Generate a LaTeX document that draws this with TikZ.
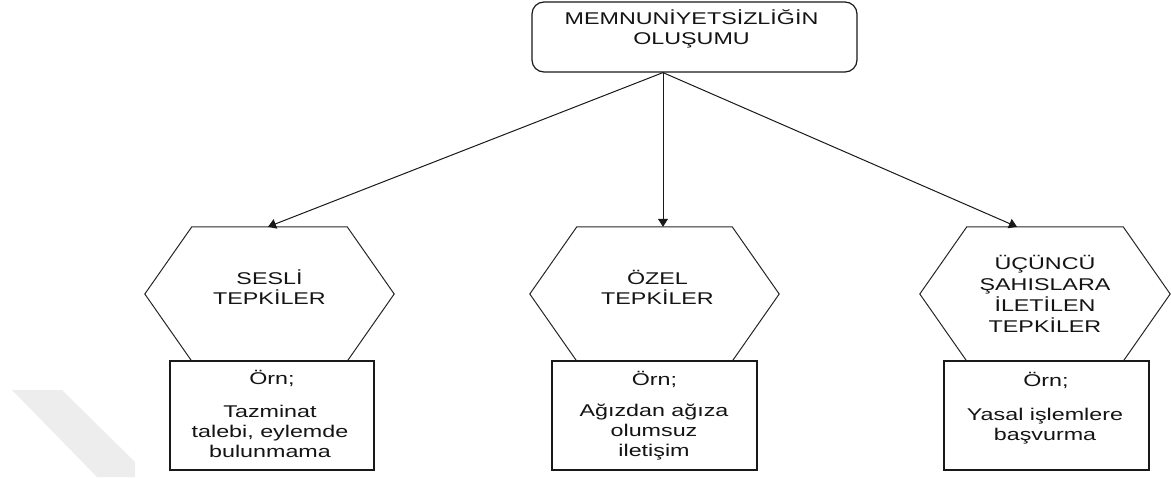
\documentclass[tikz,border=0pt]{standalone}
\usepackage{fontspec}
\setmainfont{Liberation Sans}
\usetikzlibrary{arrows.meta,calc}
\begin{document}
\begin{tikzpicture}[x=1pt,y=-1pt,
  txt/.style={align=center, font=\fontsize{17}{20}\selectfont, xscale=1.37, inner sep=0pt, anchor=base, text=black!92},
  hexbox/.style={minimum width=#1, minimum height=134pt, inner sep=0pt, draw=none},
  exbox/.style={draw=black!90, line width=1.2pt, fill=white, minimum width=#1, minimum height=109pt, inner sep=0pt},
  topbox/.style={draw=black!90, line width=1.2pt, rounded corners=12pt, minimum width=325pt, minimum height=70pt, inner sep=0pt},
  conn/.style={line width=1pt, draw=black!90, -{Triangle[length=8pt,width=10pt]}},
  hexline/.style={line width=1pt, draw=black!85}]
\useasboundingbox (0,0) rectangle (1171,477);
% faint watermark
\fill[black!7] (12,390) -- (62,390) -- (135,462) -- (135,477) -- (97,477) -- cycle;
% top box
\node[topbox] (top) at (694.5,37) {};
\node[txt] (toptxt) at (691.5,44) {MEMNUNİYETSİZLİĞİN\\OLUŞUMU};
% hexagons
\node[hexbox=249pt] (h1) at (269.5,294) {};
\node[hexbox=249pt] (h2) at (654.5,294) {};
\node[hexbox=250pt] (h3) at (1045,294) {};
\foreach \h in {h1,h2,h3}{
  \draw[hexline] (\h.west) -- ([xshift=47pt]\h.north west) -- ([xshift=-47pt]\h.north east)
    -- (\h.east) -- ([xshift=-47pt]\h.south east) -- ([xshift=47pt]\h.south west) -- cycle;
}
\node[txt] (t1) at (269.5,304) {SESLİ\\TEPKİLER};
\node[txt] (t2) at (657.5,304) {ÖZEL\\TEPKİLER};
\node[txt, font=\fontsize{17}{21}\selectfont] (t3) at (1045,332) {ÜÇÜNCÜ\\ŞAHISLARA\\İLETİLEN\\TEPKİLER};
% example boxes
\node[exbox=204pt] (b1) at (272,415.5) {};
\node[exbox=205pt] (b2) at (654.5,415.5) {};
\node[exbox=205pt] (b3) at (1046.5,415.5) {};
\node[txt] (e1a) at (272,384) {Örn;};
\node[txt] (e1b) at (270,457) {Tazminat\\talebi, eylemde\\bulunmama};
\node[txt] (e2a) at (654.5,385) {Örn;};
\node[txt] (e2b) at (654,456) {Ağızdan ağıza\\olumsuz\\iletişim};
\node[txt] (e3a) at (1046,386) {Örn;};
\node[txt] (e3b) at (1045,440) {Yasal işlemlere\\başvurma};
% connectors
\coordinate (src) at ([xshift=-31.5pt]top.south);
\draw[conn] (src) -- ([xshift=-1.5pt]h1.north);
\draw[conn] (src) -- ([xshift=8.5pt]h2.north);
\draw[conn] (src) -- ([xshift=-28pt]h3.north);
\end{tikzpicture}
\end{document}
